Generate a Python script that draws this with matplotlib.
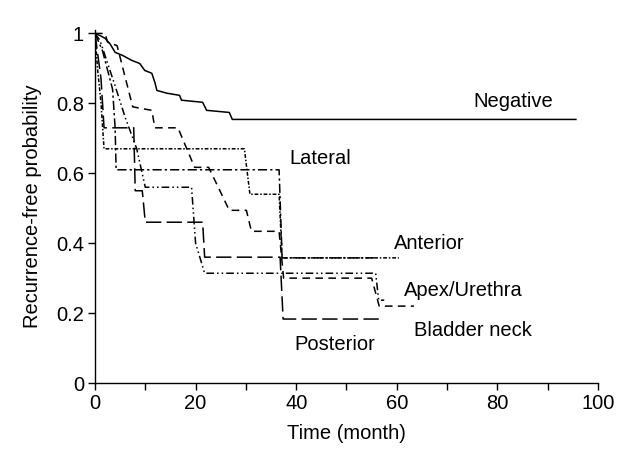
import matplotlib
matplotlib.use("Agg")
import matplotlib.pyplot as plt

plt.rcParams['font.family'] = ['Liberation Sans', 'DejaVu Sans']

# ---- data (time in months, recurrence-free probability) ----
neg_t = [0, 1, 2, 3, 4, 5.5, 7.3, 8.9, 9.9, 11.3, 11.9, 12.3, 14.3, 16.8, 17.2, 21.4, 22.2, 26.7, 27.3, 95.6]
neg_p = [1.0, 0.994, 0.986, 0.97, 0.946, 0.937, 0.923, 0.914, 0.894, 0.886, 0.86, 0.837, 0.829, 0.823, 0.809, 0.803, 0.78, 0.774, 0.754, 0.754]

lat_t = [0, 1.5, 3.5, 4.0, 4.2, 36.6, 37.2, 55.5]
lat_p = [1.0, 0.95, 0.84, 0.73, 0.61, 0.61, 0.358, 0.358]

ant_t = [0, 0.5, 1.2, 1.8, 29.7, 30.8, 36.6, 37.2, 60.4]
ant_p = [1.0, 0.9, 0.8, 0.67, 0.67, 0.54, 0.54, 0.358, 0.358]

apex_t = [0, 1.0, 4.0, 6.0, 8.3, 10.0, 19.2, 20.0, 21.8, 55.8, 56.4, 57.5]
apex_p = [1.0, 0.98, 0.85, 0.76, 0.67, 0.56, 0.56, 0.40, 0.314, 0.314, 0.237, 0.237]

blad_t = [0, 2.0, 2.5, 4.4, 7.5, 11.3, 11.9, 16.5, 19.8, 22.6, 26.7, 30.1, 31.1, 36.6, 37.5, 55.0, 56.5, 63.4]
blad_p = [1.0, 1.0, 0.975, 0.965, 0.79, 0.78, 0.73, 0.73, 0.617, 0.617, 0.494, 0.494, 0.434, 0.434, 0.30, 0.30, 0.22, 0.22]

post_t = [0, 1.2, 1.8, 7.7, 8.0, 9.4, 10.0, 21.4, 21.8, 36.8, 37.4, 56.6]
post_p = [1.0, 0.87, 0.73, 0.73, 0.55, 0.55, 0.46, 0.46, 0.36, 0.36, 0.183, 0.183]

labels = ["Negative", "Lateral", "Anterior", "Apex/Urethra", "Bladder neck", "Posterior"]
label_x = [75.2, 38.6, 59.4, 61.4, 63.4, 39.6]
label_y = [0.806, 0.643, 0.40, 0.266, 0.151, 0.109]

x_ticks = [0, 20, 40, 60, 80, 100]
y_ticks = [0, 0.2, 0.4, 0.6, 0.8, 1]
y_tick_labels = ["0", "0.2", "0.4", "0.6", "0.8", "1"]

fig = plt.figure(figsize=(6.32, 4.55), dpi=100)
ax = fig.add_axes([0.1503, 0.1582, 0.7959, 0.776])

lw = 1.1
ax.plot(neg_t, neg_p, color='black', lw=lw, linestyle='-')
ax.plot(lat_t, lat_p, color='black', lw=lw, linestyle=(0, (6, 2, 1.5, 2)))
ax.plot(ant_t, ant_p, color='black', lw=lw, linestyle=(0, (2.5, 1.2, 1, 1.2)))
ax.plot(apex_t, apex_p, color='black', lw=lw, linestyle=(0, (5, 2, 1, 2, 1, 2)))
ax.plot(blad_t, blad_p, color='black', lw=lw, linestyle=(0, (5, 3.5)))
ax.plot(post_t, post_p, color='black', lw=lw, linestyle=(0, (10, 3.5)))

for lab, lx, ly in zip(labels, label_x, label_y):
    ax.text(lx, ly, lab, fontsize=14.5, ha='left', va='center')

ax.set_xlim(0, 100)
ax.set_ylim(0, 1.01)
ax.set_xticks(x_ticks)
ax.set_xticks(list(range(10, 100, 20)), minor=True)
ax.set_yticks(y_ticks)
ax.set_yticklabels(y_tick_labels)
ax.tick_params(axis='both', which='both', direction='out', length=5, width=1, labelsize=14.5, pad=3)
for s in ['top', 'right']:
    ax.spines[s].set_visible(False)
for s in ['left', 'bottom']:
    ax.spines[s].set_linewidth(1)

ax.set_xlabel("Time (month)", fontsize=14.5, labelpad=8)
ax.set_ylabel("Recurrence-free probability", fontsize=14.5, labelpad=10)

fig.savefig("out.png", dpi=100)
